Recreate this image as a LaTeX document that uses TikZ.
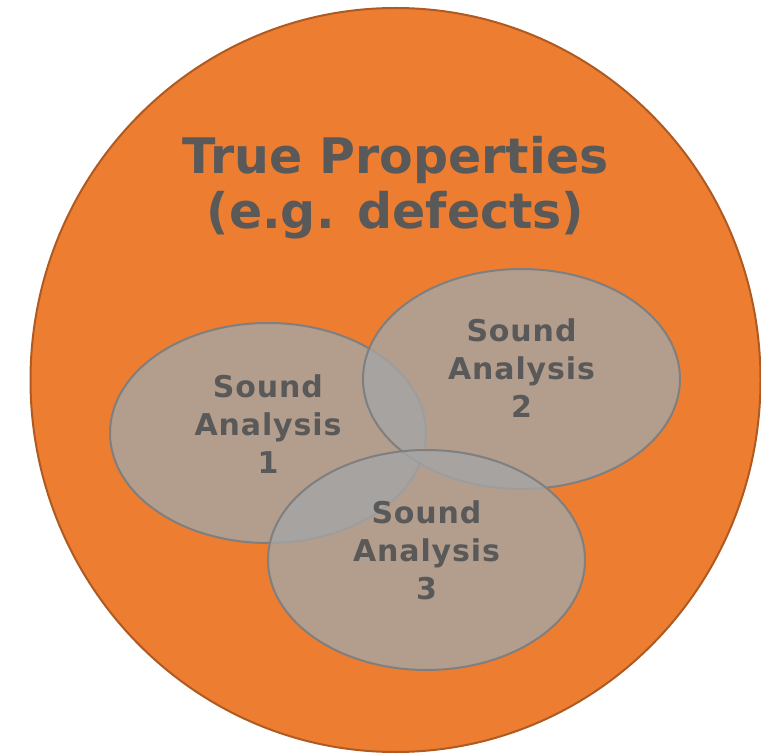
\documentclass[tikz,border=0pt]{standalone}
\usepackage{fontspec}
\setmainfont{DejaVu Sans}
\definecolor{bigfill}{HTML}{ED7D31}
\definecolor{bigline}{HTML}{AE5A21}
\definecolor{elfill}{HTML}{A5A5A5}
\definecolor{elline}{HTML}{7F7F7F}
\definecolor{txt}{HTML}{595959}
\tikzset{
  bigset/.style={fill=bigfill, draw=bigline, line width=2pt},
  analysis/.style={fill=elfill, fill opacity=0.8, draw=elline, line width=2pt, draw opacity=1},
  titletext/.style={text=txt, font=\bfseries\fontsize{49}{55}\selectfont, align=center, inner sep=0pt},
  labeltext/.style={text=txt, font=\bfseries\fontsize{30}{38}\selectfont\addfontfeature{LetterSpace=3}, align=center, inner sep=0pt},
}
\begin{document}
\begin{tikzpicture}[x=1pt,y=-1pt]
\useasboundingbox (0,0) rectangle (761,754);
\draw[bigset] (395.5,380) ellipse [x radius=365, y radius=372];
\draw[analysis] (268,433) ellipse [x radius=158, y radius=110];
\draw[analysis] (521.5,379) ellipse [x radius=158.5, y radius=110];
\draw[analysis] (426.5,560) ellipse [x radius=158.5, y radius=110];
\node[titletext] (title) at (395.5,188) {True Properties\\(e.g. defects)};
\node[labeltext] (sa1) at (268,424) {Sound\\Analysis\\1};
\node[labeltext] (sa2) at (521.5,368) {Sound\\Analysis\\2};
\node[labeltext] (sa3) at (426.5,550) {Sound\\Analysis\\3};
\end{tikzpicture}
\end{document}
